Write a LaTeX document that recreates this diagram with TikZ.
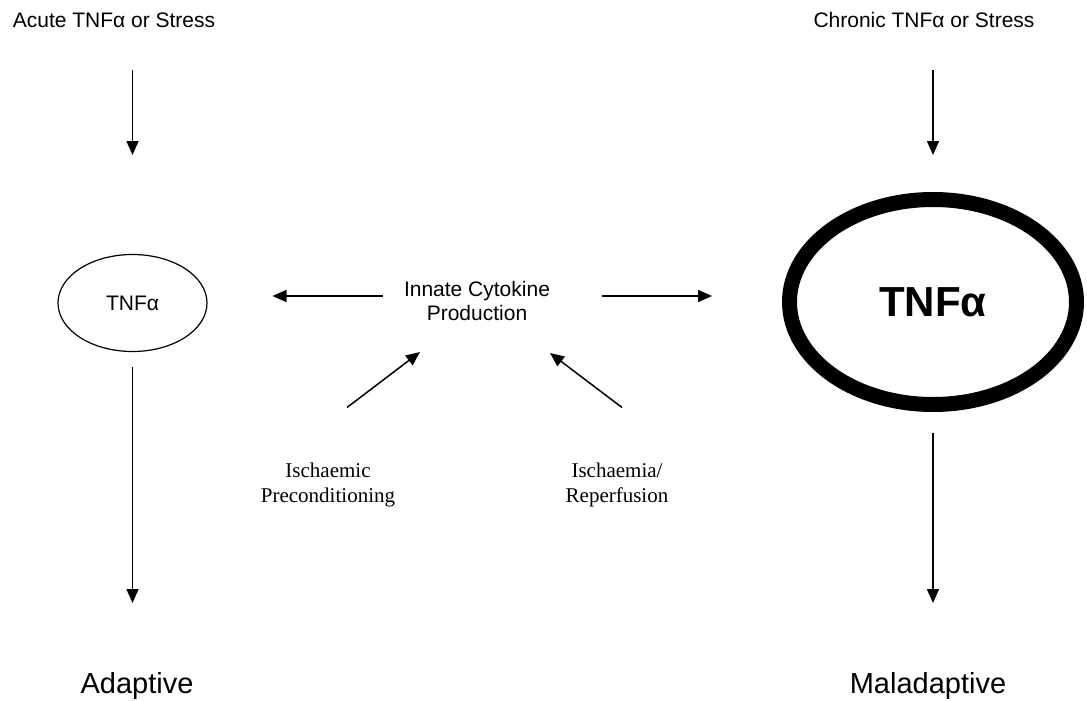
\documentclass[tikz,border=0pt]{standalone}
\usepackage{fontspec}
\setmainfont{Liberation Sans}
\newfontfamily\timesfont{Liberation Serif}
\usetikzlibrary{shapes.geometric,arrows.meta,calc}

\begin{document}
\begin{tikzpicture}[x=1pt,y=-1pt,
  lbl/.style={inner sep=0pt,align=center,font=\fontsize{21}{24}\selectfont},
  serifl/.style={inner sep=0pt,align=center,font=\timesfont\fontsize{21}{25}\selectfont},
  outcome/.style={inner sep=0pt,font=\fontsize{29}{33}\selectfont},
  arr/.style={line width=1.5pt,-{Triangle[length=14pt,width=12pt]}}]
  \useasboundingbox[fill=white] (0,0) rectangle (1087,701);

  % input labels
  \node[lbl] (acute) at (114,20) {Acute TNFα or Stress};
  \node[lbl] (chronic) at (924,20) {Chronic TNFα or Stress};

  % TNF-alpha ellipses
  \node[draw,ellipse,line width=1.2pt,minimum width=149,minimum height=97,
        inner sep=0pt,font=\fontsize{21}{24}\selectfont] (lell) at (132.5,303) {TNFα};
  \node[draw,ellipse,line width=15pt,minimum width=287,minimum height=205,
        inner sep=0pt,font=\bfseries\fontsize{42}{46}\selectfont] (rell) at (933,302) {TNFα};

  % central label and its causes
  \node[lbl] (innate) at (477,301) {Innate Cytokine\\Production};
  \node[serifl] (ipc) at (328,484.5) {Ischaemic\\Preconditioning};
  \node[serifl] (ir) at (617,484.5) {Ischaemia/\\Reperfusion};

  % outcomes
  \node[outcome] (adaptive) at (137,686) {Adaptive};
  \node[outcome] (maladaptive) at (928,686) {Maladaptive};

  % vertical flow
  \draw[arr,shorten <=50pt,shorten >=148pt] (lell.center |- acute.center) -- (lell.center);
  \draw[arr,shorten <=50pt,shorten >=147pt] (rell.center |- chronic.center) -- (rell.center);
  \draw[arr,shorten <=64pt,shorten >=83pt] (lell.center) -- (lell.center |- adaptive.center);
  \draw[arr,shorten <=131pt,shorten >=83pt] (rell.center) -- (rell.center |- maladaptive.center);

  % cytokine production feeding both ellipses
  \draw[arr,shorten <=94pt,shorten >=140pt] ([yshift=5pt]innate.center) -- ([yshift=7pt]lell.center);
  \draw[arr,shorten <=125pt,shorten >=221pt] ([yshift=5pt]innate.center) -- ([yshift=6pt]rell.center);

  % ischaemic triggers
  \draw[arr] ($(ipc.center)+(19,-77)$) -- ($(innate.center)+(-57,51)$);
  \draw[arr] ($(ir.center)+(5,-77)$) -- ($(innate.center)+(73,52)$);
\end{tikzpicture}
\end{document}
